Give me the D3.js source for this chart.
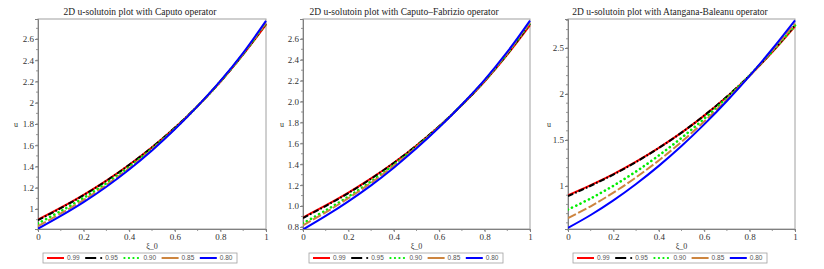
<!DOCTYPE html>
<html><head><meta charset="utf-8">
<script src="https://cdn.jsdelivr.net/npm/d3@7"></script>
<style>
html,body{margin:0;padding:0;background:#fff;}
svg{display:block;}
</style></head>
<body>
<svg id="chart" width="824" height="269"></svg>
<script>
// ---- data ----
const xs = [0, 0.1, 0.2, 0.3, 0.4, 0.5, 0.6, 0.7, 0.8, 0.9, 1.0];
const seriesLabels = ["0.99", "0.95", "0.90", "0.85", "0.80"];
const seriesColors = ["#ff0000", "#000000", "#00ee00", "#cd853f", "#0000ff"];

const titles = [
  "2D u-solutoin plot with Caputo operator",
  "2D u-solutoin plot with Caputo\u2013Fabrizio operator",
  "2D u-solutoin plot with Atangana-Baleanu operator"
];

// Caputo
const caputo099 = [0.90, 1.012, 1.133, 1.267, 1.416, 1.58, 1.764, 1.968, 2.196, 2.454, 2.735];
const caputo095 = [0.895, 1.008, 1.13, 1.265, 1.415, 1.58, 1.765, 1.97, 2.2, 2.458, 2.745];
const caputo090 = [0.865, 0.98, 1.105, 1.243, 1.397, 1.568, 1.758, 1.968, 2.2, 2.46, 2.75];
const caputo085 = [0.84, 0.958, 1.085, 1.226, 1.384, 1.56, 1.754, 1.968, 2.202, 2.463, 2.755];
const caputo080 = [0.815, 0.935, 1.065, 1.21, 1.372, 1.551, 1.75, 1.968, 2.205, 2.47, 2.77];

// Caputo-Fabrizio
const cf099 = [0.89, 1.005, 1.128, 1.264, 1.414, 1.58, 1.764, 1.966, 2.192, 2.448, 2.73];
const cf095 = [0.885, 1.0, 1.124, 1.261, 1.412, 1.579, 1.764, 1.968, 2.197, 2.455, 2.745];
const cf090 = [0.835, 0.958, 1.09, 1.235, 1.394, 1.569, 1.76, 1.97, 2.2, 2.46, 2.752];
const cf085 = [0.815, 0.94, 1.075, 1.222, 1.385, 1.563, 1.757, 1.97, 2.202, 2.464, 2.758];
const cf080 = [0.775, 0.905, 1.045, 1.198, 1.367, 1.552, 1.753, 1.972, 2.208, 2.475, 2.775];

// Atangana-Baleanu
const ab099 = [0.90, 1.01, 1.13, 1.265, 1.415, 1.58, 1.765, 1.97, 2.20, 2.455, 2.735];
const ab095 = [0.89, 1.003, 1.125, 1.262, 1.413, 1.58, 1.766, 1.972, 2.202, 2.462, 2.75];
const ab090 = [0.745, 0.865, 1.003, 1.158, 1.332, 1.523, 1.732, 1.958, 2.203, 2.465, 2.745];
const ab085 = [0.65, 0.78, 0.928, 1.094, 1.278, 1.48, 1.701, 1.94, 2.197, 2.472, 2.765];
const ab080 = [0.545, 0.685, 0.844, 1.022, 1.219, 1.435, 1.67, 1.924, 2.197, 2.489, 2.80];

const xTickValues = [0, 0.2, 0.4, 0.6, 0.8, 1];
const xTickLabels = ["0", "0.2", "0.4", "0.6", "0.8", "1"];
const yTicks1 = [1, 1.2, 1.4, 1.6, 1.8, 2, 2.2, 2.4, 2.6];
const yTickLabels1 = ["1", "1.2", "1.4", "1.6", "1.8", "2", "2.2", "2.4", "2.6"];
const yTicks2 = [0.8, 1.0, 1.2, 1.4, 1.6, 1.8, 2.0, 2.2, 2.4, 2.6];
const yTickLabels2 = ["0.8", "1.0", "1.2", "1.4", "1.6", "1.8", "2.0", "2.2", "2.4", "2.6"];
const yTicks3 = [1, 1.5, 2, 2.5];
const yTickLabels3 = ["1", "1.5", "2", "2.5"];

const panels = [
  {title: titles[0], left: 38, right: 266, yDomain: [0.812, 2.788], yTicks: yTicks1, yLabels: yTickLabels1, yMinorStep: 0.1,
   series: [caputo099, caputo095, caputo090, caputo085, caputo080], titleX: 140, ulabelX: 16, legendX: 43},
  {title: titles[1], left: 303, right: 530, yDomain: [0.78, 2.79], yTicks: yTicks2, yLabels: yTickLabels2, yMinorStep: 0.1,
   series: [cf099, cf095, cf090, cf085, cf080], titleX: 404, ulabelX: 282, legendX: 309},
  {title: titles[2], left: 568, right: 795, yDomain: [0.533, 2.815], yTicks: yTicks3, yLabels: yTickLabels3, yMinorStep: 0.1,
   series: [ab099, ab095, ab090, ab085, ab080], titleX: 670, ulabelX: 549, legendX: 573}
];

const plotTop = 19, plotBottom = 229;
const dashes = [null, "6,2,1.5,2", "0.1,4.5", "9,2.5", null];
const caps = ["butt", "butt", "round", "butt", "butt"];
const widths = [2, 2, 2.6, 2, 2];

const svg = d3.select("#chart");
const serif = "'Liberation Serif', 'Times New Roman', serif";
const sans = "'Liberation Sans', Arial, sans-serif";

panels.forEach((p, pi) => {
  const x = d3.scaleLinear().domain([0, 1]).range([p.left, p.right]);
  const y = d3.scaleLinear().domain(p.yDomain).range([plotBottom, plotTop]);
  const g = svg.append("g");

  // frame
  g.append("rect").attr("x", p.left).attr("y", plotTop)
    .attr("width", p.right - p.left).attr("height", plotBottom - plotTop)
    .attr("fill", "none").attr("stroke", "#a0a0a0").attr("stroke-width", 1);

  // x axis
  const xMinor = d3.range(0, 1.0001, 0.1);
  g.selectAll(".xminor").data(xMinor).enter().append("line")
    .attr("x1", d => x(d)).attr("x2", d => x(d))
    .attr("y1", plotBottom).attr("y2", plotBottom + 2)
    .attr("stroke", "#808080").attr("stroke-width", 0.8);
  const xAxis = d3.axisBottom(x).tickValues(xTickValues).tickSize(3)
    .tickFormat((d, i) => xTickLabels[i]);
  const gx = g.append("g").attr("transform", `translate(0,${plotBottom})`).call(xAxis);
  gx.select(".domain").attr("stroke", "#808080");
  gx.selectAll(".tick line").attr("stroke", "#808080");
  gx.selectAll("text").attr("font-family", serif).attr("font-size", 9).attr("fill", "#333").attr("dy", "0.5em");

  // y axis
  const yMinor = d3.range(Math.ceil(p.yDomain[0] * 10) / 10, p.yDomain[1], p.yMinorStep);
  g.selectAll(".yminor").data(yMinor).enter().append("line")
    .attr("x1", p.left - 2).attr("x2", p.left)
    .attr("y1", d => y(d)).attr("y2", d => y(d))
    .attr("stroke", "#808080").attr("stroke-width", 0.8);
  const yAxis = d3.axisLeft(y).tickValues(p.yTicks).tickSize(3)
    .tickFormat((d, i) => p.yLabels[i]);
  const gy = g.append("g").attr("transform", `translate(${p.left},0)`).call(yAxis);
  gy.select(".domain").attr("stroke", "#808080");
  gy.selectAll(".tick line").attr("stroke", "#808080");
  gy.selectAll("text").attr("font-family", serif).attr("font-size", 9).attr("fill", "#333").attr("x", -4);

  // title
  g.append("text").attr("x", p.titleX).attr("y", 15).attr("text-anchor", "middle")
    .attr("font-family", serif).attr("font-size", 9.5).attr("fill", "#222").text(p.title);
  // labels
  g.append("text").attr("x", p.ulabelX).attr("y", 127).attr("text-anchor", "middle")
    .attr("font-family", serif).attr("font-size", 8).attr("fill", "#333").text("u");
  g.append("text").attr("x", (p.left + p.right) / 2).attr("y", 249).attr("text-anchor", "middle")
    .attr("font-family", serif).attr("font-size", 8).attr("fill", "#333").text("\u03be_0");

  // clip
  const clipId = "clip" + pi;
  svg.append("clipPath").attr("id", clipId).append("rect")
    .attr("x", p.left).attr("y", plotTop - 3).attr("width", p.right - p.left + 2).attr("height", plotBottom - plotTop + 3);

  const line = d3.line().x((d, i) => x(xs[i])).y(d => y(d)).curve(d3.curveCatmullRom.alpha(0.5));
  p.series.forEach((s, si) => {
    g.append("path").datum(s).attr("d", line)
      .attr("clip-path", `url(#${clipId})`)
      .attr("fill", "none").attr("stroke", seriesColors[si]).attr("stroke-width", widths[si])
      .attr("stroke-dasharray", dashes[si]).attr("stroke-linecap", caps[si]);
  });

  // legend
  const lx = p.legendX, ly = 253, lw = 194, lh = 10;
  const lg = g.append("g");
  lg.append("rect").attr("x", lx).attr("y", ly).attr("width", lw).attr("height", lh)
    .attr("fill", "#fff").attr("stroke", "#a0a0a0").attr("stroke-width", 0.8);
  seriesLabels.forEach((lab, si) => {
    const ix = lx + 4 + si * 38.2;
    const yy = ly + lh / 2;
    if (si === 1) {
      lg.append("line").attr("x1", ix).attr("x2", ix + 11).attr("y1", yy).attr("y2", yy)
        .attr("stroke", seriesColors[si]).attr("stroke-width", 2);
      lg.append("circle").attr("cx", ix + 16).attr("cy", yy).attr("r", 1.1).attr("fill", seriesColors[si]);
    } else if (si === 2) {
      lg.append("line").attr("x1", ix + 1).attr("x2", ix + 18).attr("y1", yy).attr("y2", yy)
        .attr("stroke", seriesColors[si]).attr("stroke-width", 2.2)
        .attr("stroke-dasharray", "0.1,4.4").attr("stroke-linecap", "round");
    } else {
      lg.append("line").attr("x1", ix).attr("x2", ix + 17).attr("y1", yy).attr("y2", yy)
        .attr("stroke", seriesColors[si]).attr("stroke-width", 2);
    }
    lg.append("text").attr("x", ix + 20).attr("y", yy + 2.3)
      .attr("font-family", sans).attr("font-size", 6.5).attr("fill", "#555").text(lab);
  });
});
</script>
</body></html>
